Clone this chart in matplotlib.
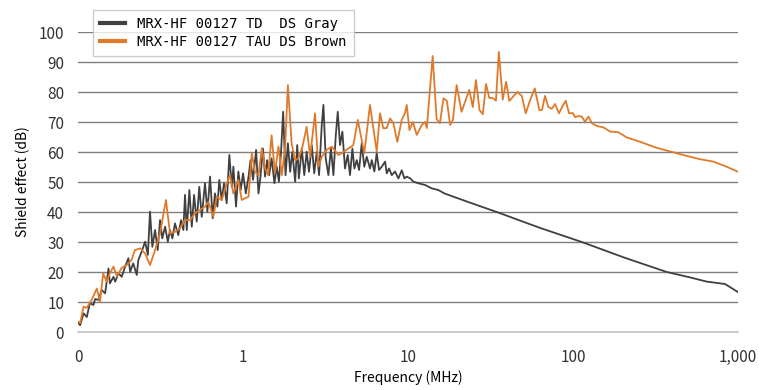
import matplotlib.pyplot as plt
from matplotlib.ticker import FixedLocator, FixedFormatter, NullLocator

# MRX-HF 00127 TD DS Gray  (frequency MHz, shield effect dB)
gray_f = [0.100, 0.103, 0.108, 0.113, 0.118, 0.124, 0.127, 0.133, 0.139, 0.146,
          0.153, 0.156, 0.164, 0.168, 0.176, 0.184, 0.193, 0.202, 0.207, 0.216,
          0.227, 0.232, 0.243, 0.255, 0.265, 0.273, 0.282, 0.293, 0.304, 0.314,
          0.324, 0.337, 0.350, 0.361, 0.373, 0.387, 0.405, 0.421, 0.435,
          0.445, 0.456, 0.473, 0.489, 0.505, 0.524, 0.543, 0.562, 0.588, 0.608,
          0.631, 0.655, 0.676, 0.699, 0.718, 0.743, 0.767, 0.796, 0.826, 0.855,
          0.874, 0.907, 0.937, 0.968, 1.00, 1.04, 1.08, 1.11, 1.15, 1.20,
          1.24, 1.27, 1.32, 1.36, 1.40, 1.44, 1.49, 1.55, 1.60, 1.65,
          1.70, 1.75, 1.81, 1.87, 1.93, 1.99, 2.07, 2.13, 2.18, 2.27,
          2.35, 2.43, 2.51, 2.61, 2.70, 2.80, 2.89, 3.00, 3.07, 3.17,
          3.29, 3.41, 3.53, 3.65, 3.75, 3.87, 4.00, 4.15, 4.31, 4.45,
          4.60, 4.73, 4.89, 5.05, 5.24, 5.43, 5.62, 5.88, 6.03, 6.25,
          6.46, 6.67, 6.93, 7.26, 7.43, 7.67, 7.97, 8.34, 8.74, 9.16,
          9.50, 9.82, 10.3, 10.8, 11.5, 12.7, 13.9, 15.3, 16.6, 23.8,
          34.5, 63.1, 113, 207, 370, 512, 646, 834, 1000]
gray_db = [3.0, 2.3, 6.2, 5.0, 9.6, 9.0, 11.0, 10.7, 14.0, 12.9,
           21.2, 16.2, 18.4, 16.8, 19.6, 18.4, 21.8, 24.6, 20.1, 22.9,
           19.0, 24.0, 26.8, 30.1, 25.7, 40.1, 28.4, 34.0, 27.3, 37.3,
           31.2, 35.1, 30.1, 34.0, 31.2, 36.2, 32.3, 37.3, 34.0,
           45.7, 34.0, 47.3, 35.1, 45.7, 36.8, 48.4, 38.4, 49.6, 40.1,
           51.8, 37.9, 46.2, 41.8, 50.7, 44.0, 49.6, 42.9, 59.0, 48.4,
           55.1, 41.8, 53.5, 47.3, 52.9, 46.2, 51.8, 57.3, 50.7, 60.7,
           46.2, 50.7, 61.2, 51.8, 57.3, 52.3, 57.9, 49.6, 55.1, 50.1,
           60.1, 73.4, 52.3, 62.9, 53.4, 60.1, 50.1, 62.3, 51.2, 61.2,
           52.3, 60.1, 53.4, 62.3, 52.9, 60.1, 52.3, 69.0, 75.7, 57.9,
           52.3, 61.2, 52.3, 65.7, 73.4, 62.3, 66.8, 54.5, 59.0, 52.3,
           61.2, 54.5, 57.3, 54.0, 62.9, 55.1, 58.4, 54.5, 57.3, 53.5,
           59.6, 54.0, 55.1, 56.8, 52.9, 54.5, 52.3, 53.5, 51.2, 53.9,
           51.2, 51.8, 51.2, 50.1, 49.6, 49.0, 47.9, 47.3, 46.2, 43.1,
           40.0, 34.7, 30.0, 24.7, 20.0, 18.2, 16.8, 16.0, 13.3]

# MRX-HF 00127 TAU DS Brown
brown_f = [0.100, 0.103, 0.108, 0.113, 0.121, 0.130, 0.136, 0.142, 0.149, 0.156,
           0.164, 0.172, 0.184, 0.197, 0.211, 0.221, 0.238, 0.255, 0.273, 0.293,
           0.314, 0.341, 0.361, 0.387, 0.415, 0.445, 0.477, 0.512, 0.548, 0.588,
           0.617, 0.661, 0.693, 0.743, 0.797, 0.834, 0.873, 0.937, 0.982, 1.03,
           1.08, 1.13, 1.18, 1.24, 1.30, 1.36, 1.42, 1.49, 1.56, 1.64,
           1.72, 1.80, 1.87, 1.97, 2.07, 2.16, 2.27, 2.43, 2.55, 2.73,
           2.86, 3.00, 3.21, 3.45, 3.78, 3.96, 4.35, 4.66, 4.96, 5.24,
           5.43, 5.88, 6.31, 6.46, 6.76, 7.08, 7.43, 7.78, 8.15, 8.61,
           9.16, 9.59, 9.82, 10.2, 10.7, 11.3, 12.1, 12.7, 13.0, 14.1,
           14.9, 15.6, 16.4, 17.2, 18.0, 18.7, 19.7, 21.1, 23.5, 24.7,
           25.8, 27.1, 28.4, 29.7, 31.1, 32.6, 34.1, 35.5, 37.5, 39.3,
           41.1, 43.5, 46.0, 48.9, 51.7, 54.8, 58.6, 62.5, 64.9, 67.6,
           70.8, 74.3, 77.8, 82.2, 86.6, 90.3, 94.6, 99.6, 103, 108,
           113, 118, 124, 130, 139, 153, 168, 188, 211, 255,
           321, 405, 489, 589, 708, 853, 1000]
brown_db = [3.5, 3.0, 8.4, 8.1, 10.7, 14.5, 10.1, 19.6, 16.8, 19.6,
            21.8, 18.5, 21.4, 22.3, 24.0, 27.3, 27.9, 26.2, 22.3, 27.3,
            32.9, 44.0, 32.9, 33.4, 34.6, 37.3, 37.3, 39.6, 40.7, 41.8,
            43.4, 38.4, 45.1, 44.0, 49.6, 52.3, 46.2, 50.7, 44.0, 44.6,
            45.1, 59.6, 53.4, 52.3, 61.2, 54.5, 52.3, 65.6, 52.9, 61.8,
            52.3, 61.8, 82.3, 62.9, 57.3, 57.8, 60.7, 68.4, 58.4, 72.9,
            55.1, 58.4, 60.7, 61.8, 59.0, 59.6, 61.2, 62.3, 70.7, 64.0,
            59.6, 75.7, 64.0, 60.1, 72.9, 67.9, 68.0, 71.2, 69.6, 63.4,
            70.7, 73.0, 75.7, 67.3, 70.0, 65.7, 69.0, 70.0, 68.0, 92.0,
            71.0, 69.6, 77.9, 77.0, 69.0, 70.7, 82.3, 73.4, 80.7, 75.0,
            84.0, 74.0, 72.6, 82.7, 78.0, 78.0, 77.1, 93.4, 77.5, 83.4,
            77.0, 78.6, 80.0, 78.7, 72.9, 77.1, 81.2, 74.0, 74.0, 78.7,
            75.0, 74.4, 76.0, 72.9, 75.4, 77.1, 72.9, 73.0, 71.6, 72.0,
            71.8, 70.1, 71.8, 69.6, 68.7, 68.2, 66.8, 66.6, 64.9, 63.4,
            61.4, 59.9, 58.7, 57.6, 56.8, 55.1, 53.4]

x_ticks = [0.1, 1, 10, 100, 1000]
x_labels = ['0', '1', '10', '100', '1,000']
y_ticks = [0, 10, 20, 30, 40, 50, 60, 70, 80, 90, 100]

plt.rcParams['font.family'] = ['Noto Sans CJK JP', 'DejaVu Sans']

fig = plt.figure(figsize=(7.68, 3.9), dpi=100)
ax = fig.add_axes([0.1016, 0.1487, 0.8594, 0.7692])

ax.plot(gray_f, gray_db, color='#404040', lw=1.3, label='MRX-HF 00127 TD  DS Gray', zorder=3)
ax.plot(brown_f, brown_db, color='#E07A2A', lw=1.3, label='MRX-HF 00127 TAU DS Brown', zorder=4)

ax.set_xscale('log')
ax.set_xlim(0.1, 1000)
ax.set_ylim(0, 100)
ax.xaxis.set_major_locator(FixedLocator(x_ticks))
ax.xaxis.set_major_formatter(FixedFormatter(x_labels))
ax.xaxis.set_minor_locator(NullLocator())
ax.set_yticks(y_ticks)
ax.tick_params(length=0, labelsize=11, colors='#333333')
ax.tick_params(axis='x', pad=12)
ax.tick_params(axis='y', pad=10)

ax.grid(axis='y', color='#7f7f7f', lw=1.0, zorder=0)
for s in ['top', 'right', 'left']:
    ax.spines[s].set_visible(False)
ax.spines['bottom'].set_color('#c8c8c8')
ax.spines['bottom'].set_linewidth(1.3)

ax.set_xlabel('Frequency (MHz)', fontsize=10, labelpad=3)
ax.set_ylabel('Shield effect (dB)', fontsize=10, labelpad=6)

leg = ax.legend(loc='upper left', bbox_to_anchor=(0.0227, 1.073), borderaxespad=0,
                frameon=True, fancybox=False,
                prop={'family': 'DejaVu Sans Mono', 'size': 10},
                handlelength=1.8, borderpad=0.5, labelspacing=0.3, handletextpad=0.9)
leg.get_frame().set_edgecolor('#c0c0c0')
leg.get_frame().set_linewidth(1.0)
for h in leg.get_lines():
    h.set_linewidth(3)
leg.set_zorder(10)

fig.savefig('out.png', dpi=100)
